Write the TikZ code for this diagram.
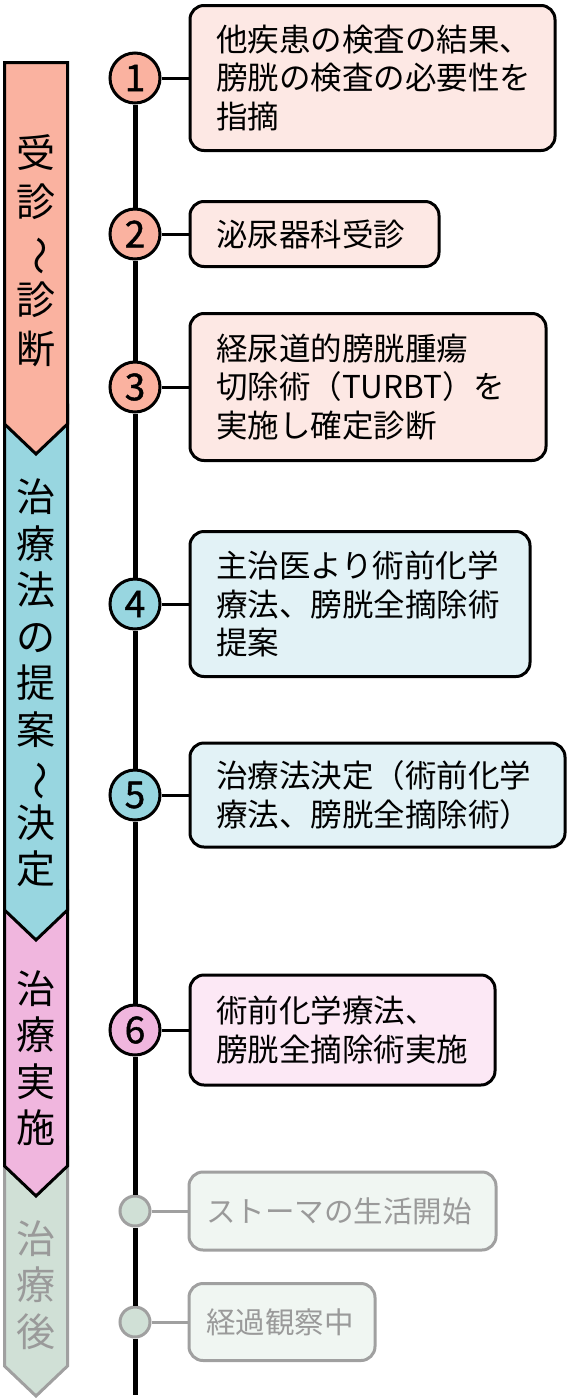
\documentclass[tikz,border=0pt]{standalone}
\usepackage{fontspec}
\setmainfont{Noto Sans CJK JP}
\newfontfamily\numfont[FakeBold=1.2]{Noto Sans CJK JP}
\usetikzlibrary{positioning}

\definecolor{stageSalmon}{HTML}{FAB2A0}
\definecolor{stageBlue}{HTML}{98D6E0}
\definecolor{stagePink}{HTML}{F0B6DE}
\definecolor{stageGrey}{HTML}{D0E0D6}
\definecolor{stageGreyLine}{HTML}{A0A0A0}
\definecolor{stageGreyText}{HTML}{9A9A9A}
\definecolor{boxSalmon}{HTML}{FDE8E4}
\definecolor{boxBlue}{HTML}{E2F2F6}
\definecolor{boxPink}{HTML}{FCE8F5}
\definecolor{boxGrey}{HTML}{F0F6F2}

\newcommand{\vwave}{\rotatebox[origin=c]{-90}{〜}}

\tikzset{
  stage/.style = {line width=3pt, line join=miter},
  stagetext/.style = {align=center, inner sep=0pt, font=\fontsize{39}{46.5}\selectfont},
  numdot/.style = {circle, draw, line width=3pt, minimum size=50pt, inner sep=0pt,
    font=\numfont\fontsize{37}{37}\selectfont},
  greydot/.style = {circle, draw=stageGreyLine, fill=stageGrey, line width=3pt,
    minimum size=30pt, inner sep=0pt},
  event/.style = {draw, rounded corners=14pt, line width=3pt, align=left,
    inner xsep=26pt, inner ysep=14pt, font=\fontsize{31.5}{38.5}\selectfont},
  greyevent/.style = {event, draw=stageGreyLine, fill=boxGrey, text=stageGreyText,
    inner xsep=17pt, font=\fontsize{29.5}{36}\selectfont},
  link/.style = {line width=3pt},
  greylink/.style = {line width=3pt, draw=stageGreyLine},
  timeline/.style = {line width=5pt}
}

\begin{document}
\begin{tikzpicture}[x=1pt, y=-1pt, node distance=27pt]

  \useasboundingbox (0,0) rectangle (569,1400);

  \foreach \ya/\yb/\fc/\dc in {1147/1366/stageGrey/stageGreyLine, 891/1166/stagePink/black,
      405/910/stageBlue/black, 62.5/424/stageSalmon/black}
    \filldraw[stage, fill=\fc, draw=\dc] (4.5,\ya) -- (67.5,\ya) -- (67.5,\yb)
      -- (36,\yb+30) -- (4.5,\yb) -- cycle;

  \node[stagetext, font=\fontsize{39}{49}\selectfont] (s1) at (36,251) {受\\診\\\vwave\\診\\断};
  \node[stagetext] (s2) at (36,683) {治\\療\\法\\の\\提\\案\\\vwave\\決\\定};
  \node[stagetext] (s3) at (36,1058) {治\\療\\実\\施};
  \node[stagetext, text=stageGreyText] (s4) at (36,1285) {治\\療\\後};

  \node[numdot, fill=stageSalmon] (c1) at (135,78) {1};
  \node[numdot, fill=stageSalmon] (c2) at (135,234) {2};
  \node[numdot, fill=stageSalmon] (c3) at (135,387) {3};
  \node[numdot, fill=stageBlue] (c4) at (135,604) {4};
  \node[numdot, fill=stageBlue] (c5) at (135,795) {5};
  \node[numdot, fill=stagePink] (c6) at (135,1030) {6};
  \node[greydot] (g1) at (135,1211) {};
  \node[greydot] (g2) at (135,1322) {};
  \coordinate (tlend) at (135,1395);

  \node[event, fill=boxSalmon, text width=313pt, minimum height=145pt, right=of c1] (b1)
    {他疾患の検査の結果、\\膀胱の検査の必要性を\\指摘};
  \node[event, fill=boxSalmon, text width=197pt, minimum height=65pt, right=of c2] (b2)
    {泌尿器科受診};
  \node[event, fill=boxSalmon, text width=304pt, minimum height=147pt, right=of c3] (b3)
    {経尿道的膀胱腫瘍\\切除術（TURBT）を\\実施し確定診断};
  \node[event, fill=boxBlue, text width=288pt, minimum height=145pt, right=of c4] (b4)
    {主治医より術前化学\\療法、膀胱全摘除術\\提案};
  \node[event, fill=boxBlue, text width=323pt, minimum height=104pt, right=of c5] (b5)
    {治療法決定（術前化学\\療法、膀胱全摘除術）};
  \node[event, fill=boxPink, text width=253pt, minimum height=110pt, right=of c6] (b6)
    {術前化学療法、\\膀胱全摘除術実施};
  \node[greyevent, text width=273pt, minimum height=78pt, right=36pt of g1] (b7)
    {ストーマの生活開始};
  \node[greyevent, text width=152pt, minimum height=77pt, right=36pt of g2] (b8)
    {経過観察中};

  \foreach \a/\b in {c1/c2, c2/c3, c3/c4, c4/c5, c5/c6, c6/g1, g1/g2, g2/tlend}
    \draw[timeline] (\a) -- (\b);

  \foreach \a/\b in {c1/b1, c2/b2, c3/b3, c4/b4, c5/b5, c6/b6}
    \draw[link] (\a) -- (\b);
  \draw[greylink] (g1) -- (b7);
  \draw[greylink] (g2) -- (b8);

\end{tikzpicture}
\end{document}
